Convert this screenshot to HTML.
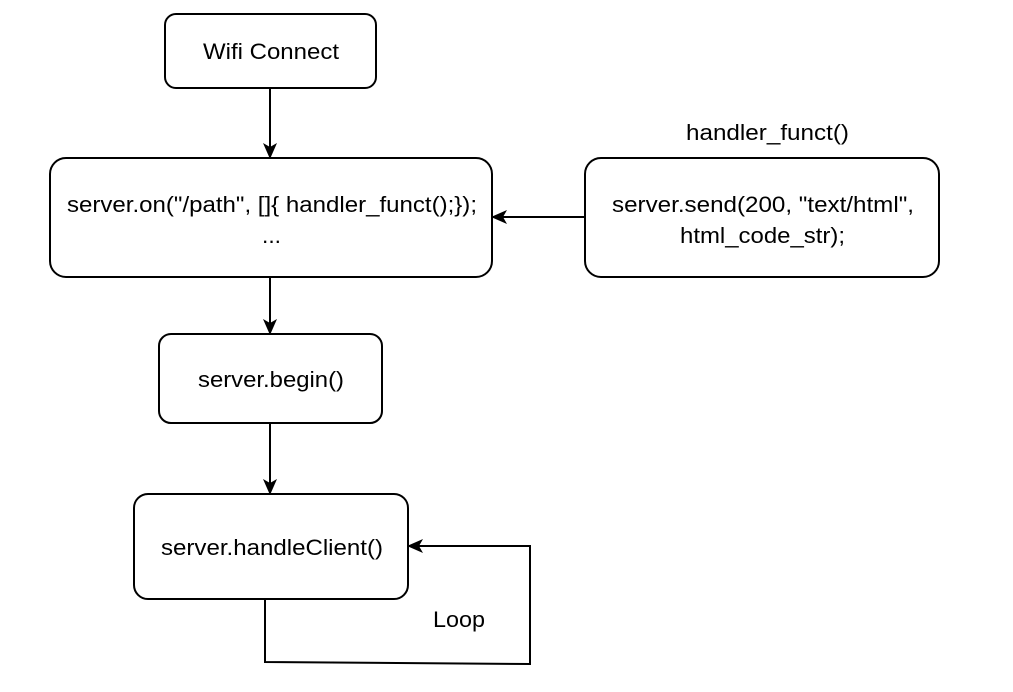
<!DOCTYPE html>
<html><head><style>
body{margin:0;background:#fff;}
svg text{font-family:"Liberation Sans",sans-serif;font-size:22px;fill:#000;}
</style></head><body>
<svg width="1013" height="687" xmlns="http://www.w3.org/2000/svg">
<defs><marker id="a" markerWidth="16" markerHeight="14" refX="14" refY="7" orient="auto" markerUnits="userSpaceOnUse"><path d="M0,0 L16,7 L0,14 L4,7 Z" fill="#000"/></marker></defs>
<g fill="#fff" stroke="#000" stroke-width="2">
<rect x="165" y="14" width="211" height="74" rx="11"/>
<rect x="50" y="158" width="442" height="119" rx="16"/>
<rect x="585" y="158" width="354" height="119" rx="16"/>
<rect x="159" y="334" width="223" height="89" rx="12"/>
<rect x="134" y="494" width="274" height="105" rx="14"/>
</g>
<g stroke="#000" stroke-width="2" fill="none">
<line x1="270" y1="88" x2="270" y2="157" marker-end="url(#a)"/>
<line x1="270" y1="277" x2="270" y2="333" marker-end="url(#a)"/>
<line x1="270" y1="423" x2="270" y2="493" marker-end="url(#a)"/>
<line x1="585" y1="217" x2="493" y2="217" marker-end="url(#a)"/>
<polyline points="265,599 265,662 530,664 530,546 409,546" marker-end="url(#a)"/>
</g>
<text x="203" y="59" textLength="136" lengthAdjust="spacingAndGlyphs">Wifi Connect</text>
<text x="67" y="212" textLength="410" lengthAdjust="spacingAndGlyphs">server.on("/path", []{ handler_funct();});</text>
<text x="262" y="243" textLength="19" lengthAdjust="spacingAndGlyphs">...</text>
<text x="686" y="140" textLength="163" lengthAdjust="spacingAndGlyphs">handler_funct()</text>
<text x="612" y="212" textLength="302" lengthAdjust="spacingAndGlyphs">server.send(200, "text/html",</text>
<text x="680" y="243" textLength="165" lengthAdjust="spacingAndGlyphs">html_code_str);</text>
<text x="198" y="387" textLength="146" lengthAdjust="spacingAndGlyphs">server.begin()</text>
<text x="161" y="555" textLength="222" lengthAdjust="spacingAndGlyphs">server.handleClient()</text>
<text x="433" y="627" textLength="52" lengthAdjust="spacingAndGlyphs">Loop</text>
</svg>
</body></html>
